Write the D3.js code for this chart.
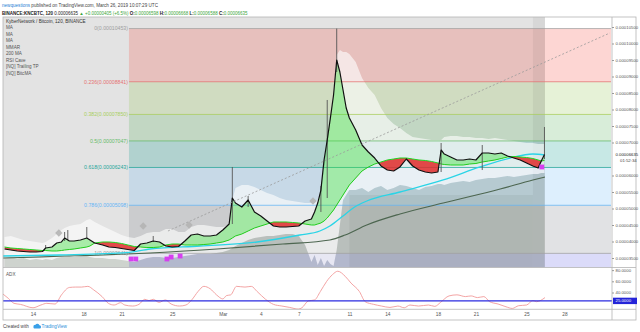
<!DOCTYPE html>
<html><head><meta charset="utf-8">
<script src="https://cdn.jsdelivr.net/npm/d3@7/dist/d3.min.js"></script>
<style>
html,body{margin:0;padding:0;background:#fff;}
svg{display:block;font-family:"Liberation Sans",Arial,sans-serif;}
</style></head><body>
<svg id="c" width="640" height="332"></svg>
<script>
// ---------------- DATA (prices in satoshi = 1e-8 BTC) ----------------
const times = ["2019-02-11 18","2019-02-12 06","2019-02-12 18","2019-02-13 06","2019-02-13 18","2019-02-14 06","2019-02-14 18","2019-02-15 00","2019-02-15 12","2019-02-15 21","2019-02-16 06","2019-02-16 12","2019-02-16 21","2019-02-17 06","2019-02-17 18","2019-02-18 06","2019-02-18 12","2019-02-18 21","2019-02-19 12","2019-02-20 00","2019-02-20 12","2019-02-21 00","2019-02-21 12","2019-02-22 00","2019-02-22 12","2019-02-23 00","2019-02-23 12","2019-02-24 00","2019-02-24 12","2019-02-25 00","2019-02-25 12","2019-02-26 00","2019-02-26 12","2019-02-27 00","2019-02-27 12","2019-02-28 00","2019-02-28 12","2019-03-01 00","2019-03-01 12","2019-03-01 18","2019-03-02 00","2019-03-02 12","2019-03-03 00","2019-03-03 12","2019-03-04 00","2019-03-04 12","2019-03-05 00","2019-03-05 12","2019-03-06 00","2019-03-06 12","2019-03-07 00","2019-03-07 12","2019-03-08 00","2019-03-08 06","2019-03-08 12","2019-03-08 18","2019-03-09 00","2019-03-09 06","2019-03-09 12","2019-03-09 18","2019-03-10 00","2019-03-10 06","2019-03-10 12","2019-03-10 18","2019-03-11 00","2019-03-11 12","2019-03-12 00","2019-03-12 12","2019-03-13 00","2019-03-13 12","2019-03-14 00","2019-03-14 12","2019-03-15 00","2019-03-15 12","2019-03-16 00","2019-03-16 12","2019-03-17 00","2019-03-17 12","2019-03-18 00","2019-03-18 06","2019-03-18 12","2019-03-19 00","2019-03-19 12","2019-03-20 00","2019-03-20 12","2019-03-21 00","2019-03-21 12","2019-03-22 00","2019-03-22 12","2019-03-23 00","2019-03-23 12","2019-03-24 00","2019-03-24 12","2019-03-25 00","2019-03-25 12","2019-03-25 22","2019-03-26 04","2019-03-26 10"];
const closeSats = [3773,3742,3712,3697,3682,3682,3697,3803,3833,3954,3985,4106,4015,4015,4045,4106,4045,3954,3894,3833,3818,3788,3758,3727,3924,3954,4015,3985,3864,3833,3848,4015,4197,4227,4167,4167,4197,4348,4530,5318,5166,5045,5257,4894,4773,4621,4470,4439,4439,4455,4470,4621,4682,4894,5166,5560,6470,7076,7742,8439,9500,9136,8591,8045,7742,7379,6924,6712,6530,6288,6166,6136,6258,6500,6288,6166,6106,6076,6106,6773,6651,6561,6470,6470,6500,6470,6682,6682,6651,6682,6591,6530,6470,6379,6288,6227,6439,6635];
const ribbonSats = [3833,3803,3788,3773,3758,3742,3727,3727,3712,3712,3727,3742,3758,3773,3803,3833,3864,3954,3985,3985,3970,3939,3894,3848,3833,3818,3818,3833,3894,3924,3924,3894,3894,3894,3909,3924,3954,3985,4045,4106,4167,4227,4318,4409,4470,4530,4591,4591,4591,4576,4561,4530,4500,4500,4530,4561,4621,4712,4833,4954,5106,5257,5409,5560,5712,5924,6136,6258,6348,6409,6470,6500,6530,6530,6500,6470,6455,6424,6379,6348,6333,6318,6318,6318,6348,6364,6409,6439,6470,6515,6561,6576,6561,6545,6515,6470,6439,6455];
const upperSats = [4136,4167,4106,4045,4015,3985,3954,3985,4106,4227,4348,4409,4470,4500,4530,4651,4682,4591,4470,4379,4288,4197,4136,4106,4167,4257,4288,4288,4379,4379,4288,4288,4439,4500,4500,4470,4439,4439,4500,5257,5621,5712,5712,5651,5560,5470,5409,5318,5257,5227,5197,5166,5166,5166,5257,5409,6166,6773,7682,8591,9651,9803,9742,9742,9682,9439,8954,8651,8439,8045,7742,7561,7439,7288,7167,7136,7106,7076,7076,7076,7167,7197,7197,7167,7167,7136,7136,7106,7136,7106,7076,7045,7015,6985,6985,6954,6954,6954];
const lowerSats = [3500,3530,3470,3500,3439,3470,3439,3470,3439,3500,3530,3530,3561,3530,3561,3561,3530,3500,3500,3470,3470,3439,3409,3379,3439,3500,3530,3530,3500,3500,3530,3561,3591,3621,3621,3621,3652,3682,3742,3803,3864,3954,4045,4106,4136,4167,4167,4197,4227,4227,4167,3894,3379,3591,3288,3500,3258,3439,3318,3258,3742,4500,5257,5409,5560,5560,5621,5500,5621,5682,5560,5621,5712,5682,5621,5560,5651,5682,5742,5742,5712,5773,5803,5833,5803,5864,5894,5924,5924,5954,5985,5954,5985,6015,6045,6045,6076,6076];

const ma200Times = ["2019-02-11 15","2019-02-16 03","2019-02-21 10","2019-02-23 06","2019-02-27 05","2019-03-03 17","2019-03-07 02","2019-03-08 16","2019-03-09 11","2019-03-10 12","2019-03-11 10","2019-03-12 09","2019-03-15 00","2019-03-18 10","2019-03-21 08","2019-03-23 17","2019-03-25 12","2019-03-26 11"];
const ma200Sats = [3560,3591,3660,3773,3864,3985,4197,4318,4470,4773,5045,5227,5500,5864,6258,6530,6651,6621];
const maLongTimes = ["2019-02-11 15","2019-02-21 10","2019-02-23 06","2019-02-28 13","2019-03-05 18","2019-03-09 11","2019-03-10 16","2019-03-12 09","2019-03-15 00","2019-03-18 10","2019-03-22 22","2019-03-25 12","2019-03-26 11"];
const maLongSats = [3500,3621,3652,3773,3924,4045,4197,4500,4833,5166,5591,5864,5954];

const wickTimes = ["2019-02-15 00","2019-02-16 12","2019-02-16 18","2019-02-18 06","2019-02-23 12","2019-03-01 18","2019-03-03 00","2019-03-08 18","2019-03-09 06","2019-03-10 00","2019-03-18 06","2019-03-21 12","2019-03-26 10"];
const wickHigh = [3894,4288,4348,4439,4167,6258,5379,5682,8288,10453,6985,6924,7470];
const wickLow  = [3803,4015,4045,4106,3985,4530,5045,4894,5318,9136,6106,6166,6500];

const trailTimes = ["2019-03-11 00","2019-03-25 12"];
const trailSats = [5409,5409];

const trendTimes = ["2019-02-24 16","2019-03-31 14"];
const trendSats = [4318,10318];

const diamondTimes = ["2019-02-16 01","2019-02-22 17","2019-02-26 08","2019-03-08 03"];
const diamondSats = [4257,4470,4500,5227];

const caveTimes = ["2019-02-21 18","2019-02-22 03","2019-02-24 14","2019-02-24 22","2019-02-25 15","2019-03-26 05"];
const caveSats = [3470,3470,3470,3530,3560,6258];

const fibStart = "2019-02-21 14";
const fibLevels = [0,0.236,0.382,0.5,0.618,0.786,1];
const fibSats = [10453,8841,7850,7047,6243,5098,3641];
const fibLineColors = ["#a0a0a0","#e57373","#a9cf5e","#66bb6a","#26a69a","#64b5f6","#a0a0a0"];
const fibFillColors = ["#f44336","#8bc34a","#4caf50","#009688","#64b5f6","#787b86","#4a4ae0"];

const adxTimes = ["2019-02-11 13","2019-02-12 01","2019-02-12 12","2019-02-13 00","2019-02-14 00","2019-02-14 15","2019-02-15 02","2019-02-15 18","2019-02-16 06","2019-02-16 21","2019-02-17 09","2019-02-17 20","2019-02-18 08","2019-02-18 19","2019-02-19 11","2019-02-19 23","2019-02-20 10","2019-02-20 22","2019-02-21 06","2019-02-21 21","2019-02-22 09","2019-02-22 20","2019-02-23 04","2019-02-23 12","2019-02-23 23","2019-02-24 11","2019-02-24 22","2019-02-25 14","2019-02-26 02","2019-02-26 13","2019-02-27 01","2019-02-27 12","2019-02-28 00","2019-02-28 12","2019-03-01 00","2019-03-01 07","2019-03-01 15","2019-03-02 02","2019-03-02 18","2019-03-03 06","2019-03-03 17","2019-03-04 09","2019-03-05 00","2019-03-05 16","2019-03-06 07","2019-03-06 23","2019-03-07 06","2019-03-07 18","2019-03-08 06","2019-03-08 17","2019-03-09 05","2019-03-09 16","2019-03-10 02","2019-03-10 16","2019-03-11 03","2019-03-11 19","2019-03-12 06","2019-03-12 22","2019-03-13 13","2019-03-14 05","2019-03-14 20","2019-03-15 08","2019-03-15 19","2019-03-16 11","2019-03-17 06","2019-03-17 18","2019-03-18 05","2019-03-18 21","2019-03-19 12","2019-03-20 04","2019-03-20 15","2019-03-21 03","2019-03-21 15","2019-03-22 02","2019-03-22 18","2019-03-23 09","2019-03-23 21","2019-03-24 09","2019-03-25 00","2019-03-25 12","2019-03-25 19","2019-03-26 11"];
const adxValues = [38.8,29.7,20.6,18.8,12.7,17.6,20.6,19.4,35.8,49,49.7,49.7,51,44.8,32.7,20.6,17.6,21.8,17.6,15.8,18.8,27.9,25.5,27.9,22.4,26.7,19.4,15.8,17.6,26.7,41.8,51,46.7,35.8,28.5,34.5,35.8,51,49.7,51,41.8,27.9,18.8,15.8,13.3,10.3,12.7,24.8,26.7,41.8,60,72,78,69,57,41.8,23.6,18.8,15.8,13.3,15.8,12.7,17.6,15.8,17.6,15.2,22.4,33.9,35.8,32.7,33.9,30.9,32.7,23.6,19.4,14.5,11.5,16.4,17.6,25.5,23.6,30.9];
const adxLevel = 25;

const timeTickDates = ["2019-02-14 00","2019-02-18 00","2019-02-21 00","2019-02-25 00","2019-03-01 00","2019-03-04 00","2019-03-07 00","2019-03-11 00","2019-03-14 00","2019-03-18 00","2019-03-21 00","2019-03-25 00","2019-03-28 00"];
const timeTickLabels = ["14","18","21","25","Mar","4","7","11","14","18","21","25","28"];
const priceTicks = [3500,4000,4500,5000,5500,6000,7000,7500,8000,8500,9000,9500,10000,10500];
const adxTicks = [40,60,80];
const lastPrice = 6635;
const lastBar = "2019-03-26 11";
const legendItems = ["MA","MA","MA","MMAR","200 MA","RSI Cave","[NQ] Trailing TP","[NQ] BitcMA"];

// ---------------- LAYOUT ----------------
const L = 3, R = 612, MT = 17, MB = 267.5, AT = 268, AB = 309.3, TB = 320;
const parse = d3.utcParse("%Y-%m-%d %H");
const X = d3.scaleUtc().domain([parse("2019-02-14 00"), parse("2019-03-28 00")]).range([33, 564.5]);
const Y = d3.scaleLinear().domain([3500, 10500]).range([258, 27]);
const A = d3.scaleLinear().domain([40, 8]).range([292.5, 310.4]);
const fmt = s => (s / 1e8).toFixed(8);

const svg = d3.select("#c");
const defs = svg.append("defs");
defs.append("clipPath").attr("id", "mainClip").append("rect").attr("x", L).attr("y", MT).attr("width", R - L).attr("height", MB - MT);
defs.append("clipPath").attr("id", "adxClip").append("rect").attr("x", L).attr("y", AT).attr("width", R - L).attr("height", AB - AT);

const T = times.map(parse);
const rows = T.map((t, i) => ({t, c: closeSats[i], r: ribbonSats[i], u: upperSats[i], l: lowerSats[i]}));

svg.append("rect").attr("width", 640).attr("height", 332).attr("fill", "#fff");
const main = svg.append("g").attr("clip-path", "url(#mainClip)");

// background (history gray, future white)
const xLast = X(parse(lastBar));
main.append("rect").attr("x", L).attr("y", MT).attr("width", xLast - L).attr("height", MB - MT).attr("fill", "#e3e3e3");

// fib bands
const fx0 = X(parse(fibStart)), fx1 = R - 1;
for (let i = 0; i < fibSats.length; i++) {
  const y0 = Y(fibSats[i]);
  const y1 = i < fibSats.length - 1 ? Y(fibSats[i + 1]) : MB;
  main.append("rect").attr("x", fx0).attr("y", y0).attr("width", fx1 - fx0).attr("height", y1 - y0)
    .attr("fill", fibFillColors[i]).attr("fill-opacity", i === 6 ? 0.2 : 0.22);
}
// gray stripe before last bar
main.append("rect").attr("x", X(parse("2019-03-25 12"))).attr("y", MT).attr("width", xLast - X(parse("2019-03-25 12"))).attr("height", MB - MT).attr("fill", "#000").attr("fill-opacity", 0.05);

// cloud (upper-lower) and lower shading
main.append("path").datum(rows).attr("d", d3.area().x(d => X(d.t)).y0(d => Y(d.l)).y1(d => Y(d.u)))
  .attr("fill", "#fff").attr("fill-opacity", 0.6);
main.append("path").datum(rows).attr("d", d3.area().x(d => X(d.t)).y0(MB).y1(d => Y(d.l)))
  .attr("fill", "#5a7a5a").attr("fill-opacity", 0.15);
const trail = trailTimes.map((t, i) => ({t: parse(t), v: trailSats[i]}));
main.append("path").datum(trail).attr("d", d3.area().x(d => X(d.t)).y0(MB).y1(d => Y(d.v)))
  .attr("fill", "#3c503c").attr("fill-opacity", 0.08);

// fib lines & labels
fibSats.forEach((s, i) => {
  main.append("line").attr("x1", fx0).attr("x2", fx1).attr("y1", Y(s)).attr("y2", Y(s))
    .attr("stroke", fibLineColors[i]).attr("stroke-width", 0.9).attr("stroke-opacity", 0.85);
  main.append("text").attr("x", fx0 - 1).attr("y", Y(s)).attr("dy", "0.35em").attr("text-anchor", "end")
    .attr("font-size", 5.2).attr("fill", fibLineColors[i]).text(`${fibLevels[i]}(${fmt(s)})`);
});

// long MAs
const lineT = d3.line().x(d => X(d.t)).y(d => Y(d.v)).curve(d3.curveMonotoneX);
main.append("path").datum(maLongTimes.map((t, i) => ({t: parse(t), v: maLongSats[i]})))
  .attr("d", lineT).attr("fill", "none").attr("stroke", "#4d6650").attr("stroke-width", 1.2);
main.append("path").datum(ma200Times.map((t, i) => ({t: parse(t), v: ma200Sats[i]})))
  .attr("d", lineT).attr("fill", "none").attr("stroke", "#2ad4e6").attr("stroke-width", 1.3);

// ribbon fill (green above, red below)
defs.append("clipPath").attr("id", "abv").append("path").datum(rows)
  .attr("d", d3.area().x(d => X(d.t)).y0(MT - 5).y1(d => Y(d.r)));
defs.append("clipPath").attr("id", "blw").append("path").datum(rows)
  .attr("d", d3.area().x(d => X(d.t)).y0(MB + 5).y1(d => Y(d.r)));
const ribArea = d3.area().x(d => X(d.t)).y0(d => Y(d.r)).y1(d => Y(d.c));
main.append("g").attr("clip-path", "url(#abv)").append("path").datum(rows).attr("d", ribArea)
  .attr("fill", "#38e038").attr("fill-opacity", 0.4);
main.append("g").attr("clip-path", "url(#blw)").append("path").datum(rows).attr("d", ribArea)
  .attr("fill", "#e02c2c").attr("fill-opacity", 0.85);
main.append("path").datum(rows).attr("d", d3.line().x(d => X(d.t)).y(d => Y(d.r)))
  .attr("fill", "none").attr("stroke", "#1ed21e").attr("stroke-width", 1);

// wicks & price
wickTimes.forEach((t, i) => {
  main.append("line").attr("x1", X(parse(t))).attr("x2", X(parse(t)))
    .attr("y1", Y(wickHigh[i])).attr("y2", Y(wickLow[i])).attr("stroke", "#555").attr("stroke-width", 0.9);
});
main.append("path").datum(rows).attr("d", d3.line().x(d => X(d.t)).y(d => Y(d.c)))
  .attr("fill", "none").attr("stroke", "#111").attr("stroke-width", 1.2).attr("stroke-linejoin", "round");

// trend line, diamonds, RSI cave squares
main.append("path").datum(trendTimes.map((t, i) => ({t: parse(t), v: trendSats[i]})))
  .attr("d", d3.line().x(d => X(d.t)).y(d => Y(d.v))).attr("fill", "none")
  .attr("stroke", "#9a9a9a").attr("stroke-width", 0.8).attr("stroke-dasharray", "2,2");
diamondTimes.forEach((t, i) => {
  main.append("rect").attr("x", -2.6).attr("y", -2.6).attr("width", 5.2).attr("height", 5.2)
    .attr("transform", `translate(${X(parse(t))},${Y(diamondSats[i])}) rotate(45)`)
    .attr("fill", "#b4b4b4").attr("fill-opacity", 0.9);
});
caveTimes.forEach((t, i) => {
  main.append("rect").attr("x", X(parse(t)) - 2.4).attr("y", Y(caveSats[i]) - 2.4).attr("width", 4.8).attr("height", 4.8)
    .attr("fill", "#d63ff0");
});

// legend
const lg = svg.append("g").attr("font-size", 4.6);
lg.append("text").attr("x", 6).attr("y", 22.5).attr("fill", "#333").text("KyberNetwork / Bitcoin, 120, BINANCE");
legendItems.forEach((s, i) => lg.append("text").attr("x", 6).attr("y", 29 + i * 6.5).attr("fill", "#555").text(s));

// ---------------- ADX PANE ----------------
const adx = svg.append("g").attr("clip-path", "url(#adxClip)");
adx.append("path").datum(adxTimes.map((t, i) => ({t: parse(t), v: adxValues[i]})))
  .attr("d", d3.line().x(d => X(d.t)).y(d => A(d.v)).curve(d3.curveMonotoneX))
  .attr("fill", "none").attr("stroke", "#f29a9a").attr("stroke-width", 0.9);
adx.append("line").attr("x1", L).attr("x2", R).attr("y1", A(adxLevel)).attr("y2", A(adxLevel))
  .attr("stroke", "#2b2be0").attr("stroke-width", 1.2);
svg.append("text").attr("x", 6).attr("y", 274).attr("dy", "0.35em").attr("font-size", 4.6).attr("fill", "#555").text("ADX");

// ---------------- FRAME ----------------
const fr = svg.append("g").attr("stroke", "#b4b4b4").attr("stroke-width", 0.8).attr("fill", "none");
fr.append("rect").attr("x", L).attr("y", MT).attr("width", 636 - L).attr("height", TB - MT);
fr.append("line").attr("x1", R).attr("x2", R).attr("y1", MT).attr("y2", TB);
fr.append("line").attr("x1", L).attr("x2", 636).attr("y1", MB).attr("y2", MB);
fr.append("line").attr("x1", L).attr("x2", 636).attr("y1", AB).attr("y2", AB);

// ---------------- AXES ----------------
const pa = svg.append("g").attr("transform", `translate(${R},0)`)
  .call(d3.axisRight(Y).tickValues(priceTicks).tickSize(2).tickPadding(1.5).tickFormat(fmt));
pa.select(".domain").remove();
pa.selectAll("text").attr("font-size", 4.3).attr("fill", "#555").attr("font-family", "Liberation Sans, Arial, sans-serif");
pa.selectAll("line").attr("stroke", "#999");
svg.append("text").attr("x", 615.5).attr("y", Y(lastPrice)).attr("dy", "0.35em").attr("font-size", 4.3).attr("fill", "#222").text(fmt(lastPrice));
svg.append("text").attr("x", 620).attr("y", Y(lastPrice) + 6).attr("dy", "0.35em").attr("font-size", 4.3).attr("fill", "#444").text("01:52:34");

const aa = svg.append("g").attr("transform", `translate(${R},0)`)
  .call(d3.axisRight(A).tickValues(adxTicks).tickSize(2).tickPadding(1.5).tickFormat(d => d.toFixed(4)));
aa.select(".domain").remove();
aa.selectAll("text").attr("font-size", 4.3).attr("fill", "#555").attr("font-family", "Liberation Sans, Arial, sans-serif");
aa.selectAll("line").attr("stroke", "#999");
svg.append("rect").attr("x", R + 1).attr("y", A(adxLevel) - 3.2).attr("width", 24).attr("height", 6.4).attr("fill", "#2424d8");
svg.append("text").attr("x", R + 3.5).attr("y", A(adxLevel)).attr("dy", "0.35em").attr("font-size", 4.3).attr("fill", "#fff").text(adxLevel.toFixed(4));

const ta = svg.append("g").attr("transform", `translate(0,${AB})`)
  .call(d3.axisBottom(X).tickValues(timeTickDates.map(parse)).tickSize(0).tickPadding(3.5).tickFormat((d, i) => timeTickLabels[i]));
ta.select(".domain").remove();
ta.selectAll("text").attr("font-size", 4.8).attr("fill", "#555").attr("font-family", "Liberation Sans, Arial, sans-serif");

// ---------------- HEADER / FOOTER ----------------
const h1 = svg.append("text").attr("x", 2).attr("y", 7).attr("font-size", 4.6);
h1.append("tspan").attr("fill", "#2a7fd4").text("newquestions");
h1.append("tspan").attr("fill", "#444").text(" published on TradingView.com, March 26, 2019 10:07:29 UTC");
const h2 = svg.append("text").attr("x", 2).attr("y", 15.2).attr("font-size", 4.5);
const G = "#3aa53a", K = "#222";
[["BINANCE:KNCBTC, 120 ", K, true], ["0.00006635 ", K], ["▲ +0.00000405 (+6.5%) ", G], ["O:", K, true], ["0.00006598 ", G], ["H:", K, true], ["0.00006668 ", G], ["L:", K, true], ["0.00006588 ", G], ["C:", K, true], ["0.00006635", G]]
  .forEach(([s, c, b]) => h2.append("tspan").attr("fill", c).attr("font-weight", b ? "bold" : "normal").text(s));

const ft = svg.append("text").attr("x", 3).attr("y", 328).attr("font-size", 4.6);
ft.append("tspan").attr("fill", "#444").text("Created with ");
svg.append("path").attr("d", "M33.5,327 a2,2 0 0 1 2,-2.3 a2.3,2.3 0 0 1 4,0.6 a1.6,1.6 0 0 1 0,3.2 h-5.2 a1.2,1.2 0 0 1 -0.8,-1.5z").attr("fill", "#3aa0e8");
svg.append("text").attr("x", 41.5).attr("y", 328).attr("font-size", 4.6).attr("fill", "#2a8fd9").text("TradingView");
</script>
</body></html>
